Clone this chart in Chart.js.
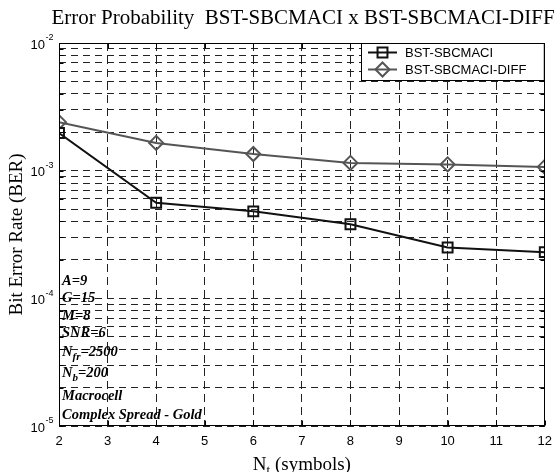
<!DOCTYPE html>
<html><head><meta charset="utf-8">
<script src="https://cdn.jsdelivr.net/npm/chart.js@4.4.1/dist/chart.umd.min.js"></script>
<style>html,body{margin:0;padding:0;background:#fff;}#wrap{width:560px;height:472px;}</style>
</head><body><div id="wrap"><canvas id="c" width="560" height="472"></canvas></div>
<script>
// ---- data ----
const nValues = [2, 4, 6, 8, 10, 12];
const berSBCMACI = [1.97e-3, 5.6e-4, 4.8e-4, 3.8e-4, 2.5e-4, 2.3e-4];
const berSBCMACIDiff = [2.4e-3, 1.65e-3, 1.35e-3, 1.15e-3, 1.12e-3, 1.07e-3];
const xTicks = [2, 3, 4, 5, 6, 7, 8, 9, 10, 11, 12];
const yExponents = [-5, -4, -3, -2];
const seriesNames = ['BST-SBCMACI', 'BST-SBCMACI-DIFF'];
const titleText = 'Error Probability  BST-SBCMACI x BST-SBCMACI-DIFF';
const yTitleText = 'Bit Error Rate (BER)';
const xTitleText = 'N_{t} (symbols)';
const notes = ['A=9', 'G=15', 'M=8', 'SNR=6', 'N_{fr}=2500', 'N_{b}=200', 'Macrocell', 'Complex Spread - Gold'];

// ---- helpers ----
const SERIF = '"Liberation Serif","Times New Roman",serif';
const SANS = '"Liberation Sans",Arial,sans-serif';
function parseRich(s) {
  const parts = []; const re = /_\{([^}]*)\}/g; let last = 0, m;
  while ((m = re.exec(s))) {
    if (m.index > last) parts.push({ t: s.slice(last, m.index), sub: false });
    parts.push({ t: m[1], sub: true }); last = re.lastIndex;
  }
  if (last < s.length) parts.push({ t: s.slice(last), sub: false });
  return parts;
}
function richWidth(ctx, parts, font, subFont) {
  let w = 0;
  parts.forEach(p => { ctx.font = p.sub ? subFont : font; w += ctx.measureText(p.t).width; });
  return w;
}
function drawRich(ctx, s, x, y, font, subFont, subDy, align) {
  const parts = parseRich(s);
  let cx = x;
  if (align === 'center') cx = x - richWidth(ctx, parts, font, subFont) / 2;
  ctx.textAlign = 'left';
  parts.forEach(p => {
    ctx.font = p.sub ? subFont : font;
    ctx.fillText(p.t, cx, p.sub ? y + subDy : y);
    cx += ctx.measureText(p.t).width;
  });
}

const yTickValues = [];
yExponents.forEach((e, i) => {
  if (i < yExponents.length - 1) { for (let m = 1; m <= 9; m++) yTickValues.push(m * Math.pow(10, e)); }
  else yTickValues.push(Math.pow(10, e));
});

const decor = {
  id: 'decor',
  afterDraw(chart) {
    const { ctx, chartArea: a, scales: { x, y } } = chart;
    ctx.save();
    ctx.setLineDash([]);
    ctx.strokeStyle = '#000';
    // legend box background
    const lx = 361, ly = a.top, lw = a.right - 361, lh = 37;
    ctx.fillStyle = '#fff';
    ctx.fillRect(lx, ly, lw, lh);
    // border
    ctx.lineWidth = 1;
    const L = Math.round(a.left) + 0.5, R = Math.round(a.right) - 0.5, T = Math.round(a.top) + 0.5, B = Math.round(a.bottom) - 0.5;
    ctx.strokeRect(L, T, R - L, B - T);
    // inward ticks
    ctx.beginPath();
    xTicks.forEach(v => {
      const px = Math.round(x.getPixelForValue(v)) + 0.5;
      ctx.moveTo(px, B); ctx.lineTo(px, B - 5);
      if (px < lx) { ctx.moveTo(px, T); ctx.lineTo(px, T + 5); }
    });
    yTickValues.forEach(v => {
      const py = Math.round(y.getPixelForValue(v)) + 0.5;
      ctx.moveTo(L, py); ctx.lineTo(L + 4, py);
      if (py > ly + lh) { ctx.moveTo(R, py); ctx.lineTo(R - 4, py); }
    });
    ctx.stroke();
    // legend border + entries
    ctx.strokeRect(lx + 0.5, ly + 0.5, lw - 1, lh);
    const cols = ['#111', '#555'];
    const styles = ['rect', 'rectRot'];
    [0, 1].forEach(i => {
      const ey = ly + 9.5 + i * 17;
      ctx.strokeStyle = cols[i]; ctx.lineWidth = 2;
      ctx.beginPath(); ctx.moveTo(368, ey); ctx.lineTo(397, ey); ctx.stroke();
      ctx.fillStyle = 'rgba(0,0,0,0)';
      Chart.helpers.drawPoint(ctx, { pointStyle: styles[i], radius: 7, rotation: 0, borderWidth: 2 }, 382.5, ey);
      ctx.fillStyle = '#000'; ctx.font = '13px ' + SANS; ctx.textAlign = 'left'; ctx.textBaseline = 'middle';
      ctx.fillText(seriesNames[i], 405, ey + 1);
    });
    // y tick labels with superscripts
    ctx.fillStyle = '#000'; ctx.textBaseline = 'middle';
    yExponents.forEach(e => {
      const py = y.getPixelForValue(Math.pow(10, e));
      ctx.font = '13px ' + SANS; ctx.textAlign = 'right';
      ctx.fillText('10', 45, py + 2);
      ctx.font = '9px ' + SANS; ctx.textAlign = 'left';
      ctx.fillText(String(e), 45.5, py - 5);
    });
    // title
    ctx.textBaseline = 'alphabetic';
    ctx.font = '21px ' + SERIF; ctx.textAlign = 'center';
    ctx.fillText(titleText, 303, 24);
    // x title
    drawRich(ctx, xTitleText, (a.left + a.right) / 2, 470, '19px ' + SERIF, '13px ' + SERIF, 4, 'center');
    // y title
    ctx.save();
    ctx.translate(22, (a.top + a.bottom) / 2);
    ctx.rotate(-Math.PI / 2);
    ctx.font = '19px ' + SERIF; ctx.textAlign = 'center';
    ctx.fillText(yTitleText, 0, 0);
    ctx.restore();
    // annotation notes
    const noteY = [285, 302, 320, 337, 356, 377, 400, 419];
    notes.forEach((n, i) => {
      drawRich(ctx, n, 62, noteY[i], 'italic bold 14.5px ' + SERIF, 'italic bold 11px ' + SERIF, 4, 'left');
    });
    ctx.restore();
  }
};

new Chart(document.getElementById('c'), {
  type: 'line',
  data: {
    datasets: [
      {
        label: seriesNames[0],
        data: nValues.map((v, i) => ({ x: v, y: berSBCMACI[i] })),
        borderColor: '#111', borderWidth: 2,
        pointStyle: 'rect', pointRadius: 7, pointBorderWidth: 2,
        pointBorderColor: '#111', pointBackgroundColor: 'rgba(0,0,0,0)', tension: 0
      },
      {
        label: seriesNames[1],
        data: nValues.map((v, i) => ({ x: v, y: berSBCMACIDiff[i] })),
        borderColor: '#555', borderWidth: 2,
        pointStyle: 'rectRot', pointRadius: 7, pointBorderWidth: 2,
        pointBorderColor: '#555', pointBackgroundColor: 'rgba(0,0,0,0)', tension: 0
      }
    ]
  },
  options: {
    responsive: false, animation: false, devicePixelRatio: 1,
    layout: { padding: { left: 0, right: 10, top: 43, bottom: 0 } },
    plugins: { legend: { display: false }, title: { display: false }, tooltip: { enabled: false } },
    scales: {
      x: {
        type: 'linear', min: 2, max: 12,
        afterBuildTicks: s => { s.ticks = xTicks.map(v => ({ value: v })); },
        ticks: { font: { family: SANS, size: 13 }, color: '#000', padding: 8, maxRotation: 0, autoSkip: false },
        grid: { color: '#222', lineWidth: 1, drawTicks: false },
        border: { display: false, dash: [8, 5] },
        afterFit: s => { s.height = 46; }
      },
      y: {
        type: 'logarithmic', min: 1e-5, max: 1e-2,
        afterBuildTicks: s => { s.ticks = yTickValues.map(v => ({ value: v })); },
        ticks: { callback: () => '', autoSkip: false },
        grid: { color: '#222', lineWidth: 1, drawTicks: false },
        border: { display: false, dash: [7, 5] },
        afterFit: s => { s.height; s.width = 59; }
      }
    }
  },
  plugins: [decor]
});
</script></body></html>
